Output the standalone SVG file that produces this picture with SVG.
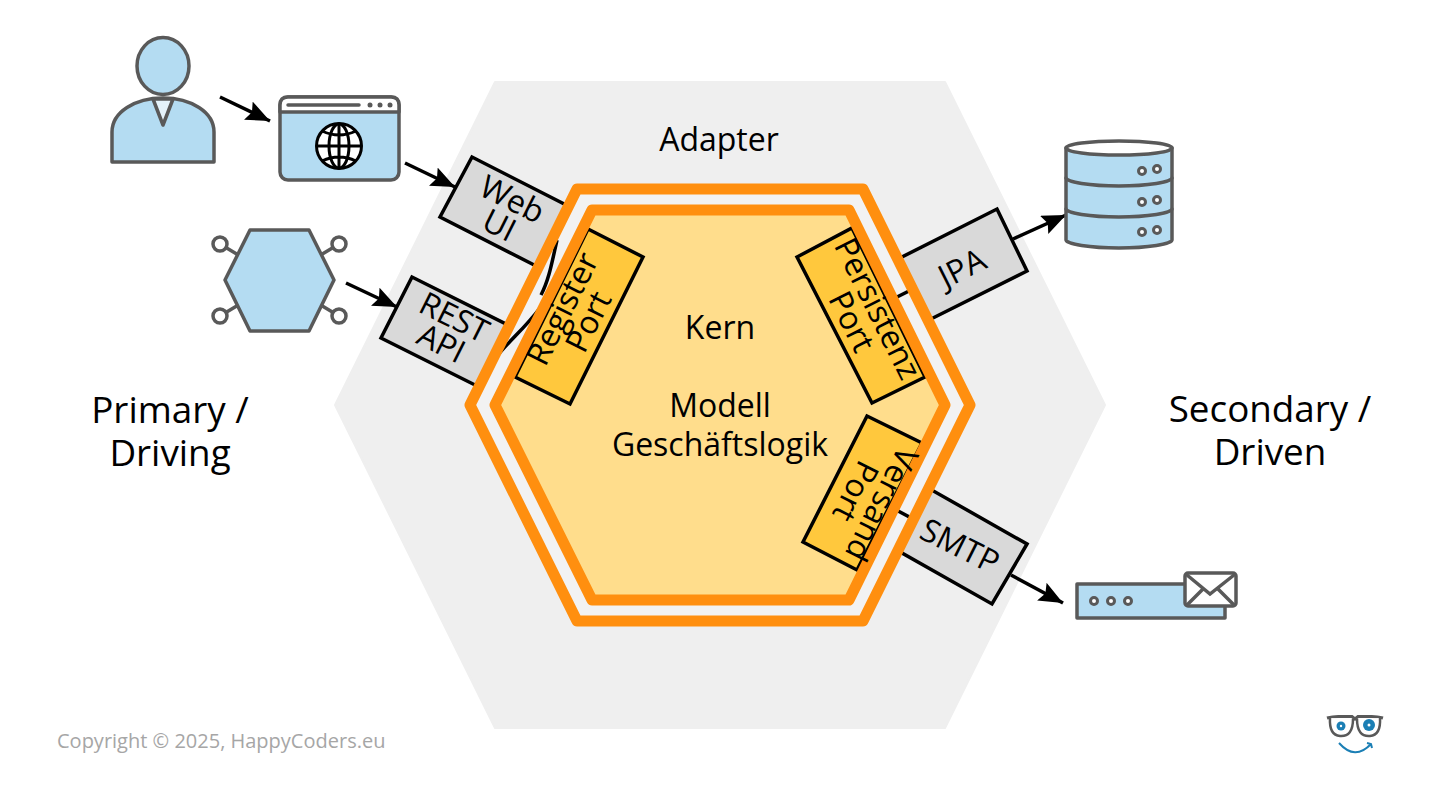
<svg xmlns="http://www.w3.org/2000/svg" width="1440" height="810" viewBox="0 0 1440 810">
<style>
text{font-family:"Open Sans","Noto Sans","Liberation Sans",sans-serif;fill:#000;text-anchor:middle}
.l{font-size:36.800px}.m{font-size:32px}.c{font-size:32px}
.ad{fill:#d9d9d9;stroke:#000;stroke-width:3.500}
.port{fill:#ffc83d;stroke:#000;stroke-width:3.500}
.ic{fill:#b4dcf2;stroke:#595959;stroke-width:3.500;stroke-linejoin:round}
.w{fill:#fff;stroke:#595959;stroke-width:3.500;stroke-linejoin:round}
.ln{fill:none;stroke:#595959;stroke-width:3.500;stroke-linecap:round}
.dot{fill:#fff;stroke:#595959;stroke-width:3}
.g{fill:none;stroke:#000;stroke-width:3}
.ring{fill:none;stroke:#ff8f0f;stroke-width:11;stroke-linejoin:round}
.cn{fill:none;stroke:#000;stroke-width:3.500}
</style>
<defs><marker id="a" markerUnits="userSpaceOnUse" markerWidth="26" markerHeight="22" refX="24" refY="10" orient="auto"><path d="M0 0L24 10L0 20L4 10Z" fill="#000"/></marker></defs>
<g id="adapter-hex"><polygon points="495,82 945,82 1105,405 945,728 495,728 335,405" fill="#efefef" stroke="#efefef" stroke-width="2" stroke-linejoin="round"/></g>
<g id="adapter-web"><polygon class="ad" points="472,157 440,217 540,268 572,208"/></g>
<g id="adapter-rest"><polygon class="ad" points="412,277 381,338 481,388 512,327"/></g>
<g id="adapter-jpa"><polygon class="ad" points="997,209 1027,271 925,322 894,261"/></g>
<g id="adapter-smtp"><polygon class="ad" points="1027,544 992,604 895,549 930,489"/></g>
<g id="outer-hex"><polygon points="577,189 863,189 970,405 863,621 577,621 470,405" fill="#f2f2f2"/></g>
<g id="connectors">
<path class="cn" d="M541 295C549 280 552 262 557 240"/>
<path class="cn" d="M498 355C510 340 525 328 540 308"/>
<path class="cn" d="M885 303L915 288"/>
<path class="cn" d="M885 504L915 520"/>
<path class="cn" marker-end="url(#a)" d="M220 97L270 121"/>
<path class="cn" marker-end="url(#a)" d="M405 163L455 187"/>
<path class="cn" marker-end="url(#a)" d="M346 283L397 307"/>
<path class="cn" marker-end="url(#a)" d="M1013 239L1066 215"/>
<path class="cn" marker-end="url(#a)" d="M1011 575L1063 603"/>
</g>
<g id="outer-ring"><polygon class="ring" points="577,189 863,189 970,405 863,621 577,621 470,405"/></g>
<g id="kern"><polygon points="592,210 849,210 945,405 849,600 592,600 495,405" fill="#ffdd8c"/>
<polygon class="port" points="588,229 643,257 570,404 515,377"/>
<polygon class="port" points="797,257 852,228 925,377 872,403"/>
<polygon class="port" points="867,416 922,443 857,570 803,542"/>
<polygon class="ring" points="592,210 849,210 945,405 849,600 592,600 495,405"/></g>
<g id="labels">
<text class="c" x="719" y="151">Adapter</text>
<text class="c" x="720" y="339">Kern</text>
<text class="c" x="720" y="417">Modell</text>
<text class="c" x="720" y="456">Geschäftslogik</text>
<text class="l" x="170" y="423">Primary /</text>
<text class="l" x="170" y="466">Driving</text>
<text class="l" x="1270" y="422">Secondary /</text>
<text class="l" x="1270" y="465">Driven</text>
<text x="57" y="748" font-size="20" style="text-anchor:start;fill:#a6a6a6">Copyright © 2025, HappyCoders.eu</text>
<g transform="translate(506,212) rotate(26.6)"><text class="m" y="-3">Web</text><text class="m" y="26">UI</text></g>
<g transform="translate(448,330) rotate(26.6)"><text class="m" y="-3">REST</text><text class="m" y="26">API</text></g>
<g transform="translate(575,315) rotate(-63.4)"><text class="m" y="-3">Register</text><text class="m" y="26">Port</text></g>
<g transform="translate(865,315) rotate(63.4)"><text class="m" y="-3">Persistenz</text><text class="m" y="26">Port</text></g>
<g transform="translate(869,498) rotate(116.6)"><text class="m" y="-3">Versand</text><text class="m" y="26">Port</text></g>
<text class="m" transform="translate(967,278) rotate(-26.6)">JPA</text>
<text class="m" transform="translate(955,556) rotate(26.6)">SMTP</text>
</g>
<g id="user"><path class="ic" d="M112 162V132C112 112 135 98 163 98C191 98 214 112 214 132V162Z"/><ellipse class="ic" cx="163" cy="66" rx="26" ry="28.500"/><path d="M153 99H173L163 125Z" fill="#e4f2fa" stroke="#595959" stroke-width="3.500" stroke-linejoin="round"/></g>
<g id="browser"><rect class="ic" x="280" y="97" width="119" height="83" rx="8"/><path class="w" d="M280 112V105Q280 97 288 97H391Q399 97 399 105V112Z"/><path class="ln" d="M288 105H359" stroke-width="3"/><circle cx="370" cy="105" r="2.500" fill="#595959"/><circle cx="380" cy="105" r="2.500" fill="#595959"/><circle cx="390" cy="105" r="2.500" fill="#595959"/>
<circle cx="339" cy="146" r="22.500" fill="#fff" stroke="#000" stroke-width="3"/><ellipse class="g" cx="339" cy="146" rx="10" ry="22" stroke-width="2"/><path class="g" stroke-width="2.500" d="M339 124V168M317 146H361M322 131Q339 139 356 131M322 161Q339 153 356 161"/></g>
<g id="service"><path class="ln" d="M220 244L240 256M339 244L319 256M220 316L240 304M339 316L319 304"/><polygon class="ic" points="250,230 309,230 334,280 309,331 250,331 225,280"/><circle class="w" cx="220" cy="244" r="7"/><circle class="w" cx="339" cy="244" r="7"/><circle class="w" cx="220" cy="316" r="7"/><circle class="w" cx="339" cy="316" r="7"/></g>
<g id="database"><path class="ic" d="M1066 148V240C1066 244 1090 248 1119 248C1148 248 1172 244 1172 240V148Z"/><ellipse class="w" cx="1119" cy="148" rx="53" ry="7"/><path class="ln" d="M1066 178C1066 182 1090 186 1119 186C1148 186 1172 182 1172 178M1066 209C1066 213 1090 217 1119 217C1148 217 1172 213 1172 209"/>
<circle class="dot" cx="1142" cy="171" r="3.500"/><circle class="dot" cx="1157" cy="169" r="3.500"/><circle class="dot" cx="1142" cy="202" r="3.500"/><circle class="dot" cx="1157" cy="200" r="3.500"/><circle class="dot" cx="1142" cy="232" r="3.500"/><circle class="dot" cx="1157" cy="230" r="3.500"/></g>
<g id="mail"><rect class="ic" x="1077" y="584" width="148" height="34"/><circle class="dot" cx="1094" cy="601" r="3.500"/><circle class="dot" cx="1111" cy="601" r="3.500"/><circle class="dot" cx="1128" cy="601" r="3.500"/><rect class="w" x="1185" y="573" width="51" height="33" rx="3"/><path class="ln" d="M1187 575L1210 594L1234 575M1187 605L1203 589M1234 605L1218 589" stroke-width="3"/></g>
<g id="logo"><path d="M1327 718Q1334 716 1341 716.500H1352L1355 719L1358 716.500H1369Q1376 716 1383 718" fill="none" stroke="#595959" stroke-width="3"/><path d="M1330 718Q1329 735 1340 736Q1353 737 1353 719M1357 719Q1357 737 1370 736Q1381 735 1380 718" fill="#fff" stroke="#595959" stroke-width="2.500"/><circle cx="1341" cy="726" r="4.500" fill="#1b7fb5"/><circle cx="1369" cy="725" r="6" fill="#1b7fb5"/><circle cx="1369" cy="725" r="1.500" fill="#fff"/><circle cx="1341" cy="726" r="1.200" fill="#fff"/><path d="M1339 743Q1355 761 1371 744M1367 743L1371 744L1372 748" fill="none" stroke="#1b7fb5" stroke-width="2"/></g>
</svg>
